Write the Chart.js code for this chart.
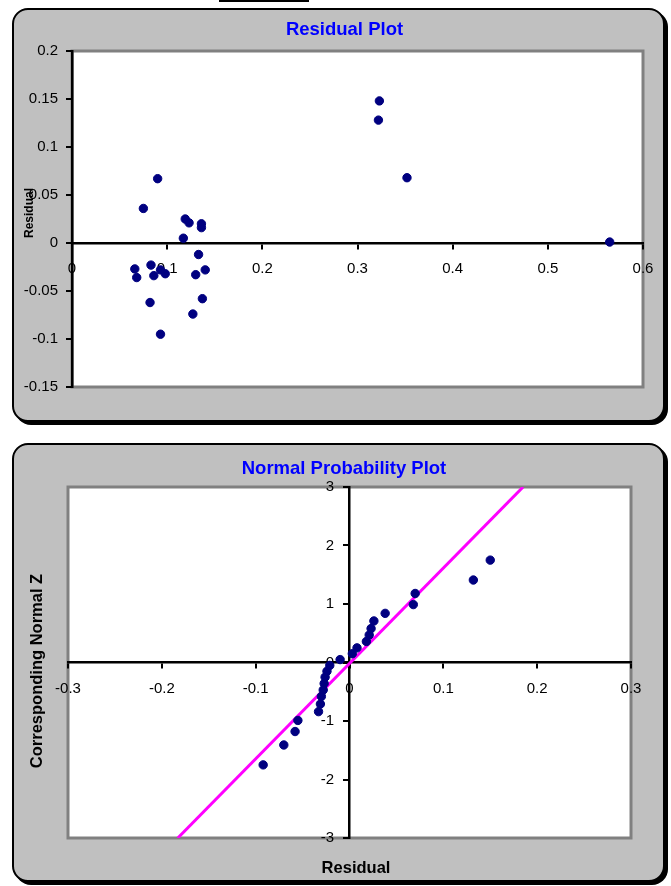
<!DOCTYPE html>
<html><head><meta charset="utf-8">
<script src="https://cdn.jsdelivr.net/npm/chart.js@4.4.1/dist/chart.umd.min.js"></script>
<style>
html,body{margin:0;padding:0;background:#fff;width:671px;height:886px;overflow:hidden;}
.box{position:absolute;box-sizing:border-box;background:#c0c0c0;border:2px solid #000;border-radius:16px;box-shadow:3px 3px 0 #000;}
#b1{left:12px;top:8px;width:653px;height:414px;}
#b2{left:12px;top:443px;width:653px;height:439px;}
canvas{position:absolute;left:0;}
#c1{top:0;}
#c2{top:430px;}
.topline{position:absolute;left:219px;top:0;width:90px;height:2px;background:#000;}
</style>
</head><body>
<div class="topline"></div>
<div class="box" id="b1"></div>
<div class="box" id="b2"></div>
<canvas id="c1" width="671" height="430"></canvas>
<canvas id="c2" width="671" height="456"></canvas>
<script>
// ---- data ----
const resFitted = [0.090, 0.075, 0.119, 0.123, 0.136, 0.136, 0.117, 0.133, 0.066, 0.068, 0.083, 0.086,
                   0.093, 0.098, 0.130, 0.140, 0.137, 0.082, 0.127, 0.093, 0.323, 0.322, 0.352, 0.565];
const resValues = [0.067, 0.036, 0.025, 0.021, 0.020, 0.016, 0.005, -0.012, -0.027, -0.036, -0.023, -0.034,
                   -0.028, -0.032, -0.033, -0.028, -0.058, -0.062, -0.074, -0.095, 0.148, 0.128, 0.068, 0.001];
const resXTicks = [0, 0.1, 0.2, 0.3, 0.4, 0.5, 0.6];
const resYTicks = [-0.15, -0.1, -0.05, 0, 0.05, 0.1, 0.15, 0.2];

const nppResiduals = [-0.092, -0.070, -0.058, -0.055, -0.033, -0.031, -0.030, -0.028, -0.027, -0.026, -0.024, -0.021,
                      -0.010, 0.003, 0.008, 0.018, 0.021, 0.023, 0.026, 0.038, 0.068, 0.070, 0.132, 0.150];
const nppZ = [-1.75, -1.41, -1.18, -0.99, -0.84, -0.71, -0.58, -0.47, -0.36, -0.25, -0.15, -0.05,
              0.05, 0.15, 0.25, 0.36, 0.47, 0.58, 0.71, 0.84, 0.99, 1.18, 1.41, 1.75];
const refLineX = [-0.183, 0.185];
const refLineZ = [-3, 3];
const nppXTicks = [-0.3, -0.2, -0.1, 0, 0.1, 0.2, 0.3];
const nppYTicks = [-3, -2, -1, 0, 1, 2, 3];

// ---- helpers ----
const FONT = "'Liberation Sans', Arial, Helvetica, sans-serif";
Chart.defaults.font.family = FONT;
Chart.defaults.font.size = 15;
Chart.defaults.color = '#000';

function pts(xs, ys) { return xs.map((x, i) => ({x: x, y: ys[i]})); }

function axis(tickArr, pos, pad) {
  return {
    type: 'linear', position: pos,
    min: tickArr[0], max: tickArr[tickArr.length - 1],
    afterBuildTicks: s => { s.ticks = tickArr.map(v => ({value: v})); },
    ticks: {autoSkip: false, maxRotation: 0, padding: pad, color: '#000', font: {size: 15},
            callback: v => String(v)},
    grid: {display: true, drawOnChartArea: false, drawTicks: true, tickLength: 5, color: '#000', lineWidth: 2},
    border: {display: true, color: '#000', width: 2.5}
  };
}

const plotArea = {
  id: 'plotArea',
  beforeDraw(chart) {
    const {ctx, chartArea: a} = chart;
    ctx.save();
    ctx.fillStyle = '#fff';
    ctx.fillRect(a.left, a.top, a.width, a.height);
    ctx.strokeStyle = '#808080';
    ctx.lineWidth = 3;
    ctx.strokeRect(a.left, a.top, a.width, a.height);
    ctx.restore();
  }
};

// move the value-positioned y axis labels to the left of the tick marks
function shiftYLabels(dx) {
  return {
    id: 'shiftYLabels',
    beforeDraw(chart) {
      chart.scales.y.getLabelItems().forEach(it => {
        if (!it._shifted) { it.options.translation[0] -= dx; it._shifted = true; }
      });
    }
  };
}

function textPlugin(items) {
  return {
    id: 'texts',
    afterDraw(chart) {
      const ctx = chart.ctx;
      items.forEach(t => {
        ctx.save();
        ctx.font = 'bold ' + t.size + 'px ' + FONT;
        ctx.fillStyle = t.color;
        ctx.textAlign = 'center';
        ctx.textBaseline = 'middle';
        ctx.translate(t.x, t.y);
        if (t.rot) ctx.rotate(-Math.PI / 2);
        ctx.fillText(t.text, 0, 0);
        ctx.restore();
      });
    }
  };
}

// ---- Residual plot ----
new Chart(document.getElementById('c1'), {
  type: 'scatter',
  data: {datasets: [{
    data: pts(resFitted, resValues),
    backgroundColor: '#000080', borderColor: '#000080', borderWidth: 1, pointRadius: 4.2
  }]},
  options: {
    responsive: false, animation: false,
    layout: {padding: {left: 72, right: 28, top: 51, bottom: 43}},
    plugins: {legend: {display: false}, tooltip: {enabled: false}},
    scales: {
      x: axis(resXTicks, {y: 0}, 12),
      y: axis(resYTicks, {x: 0}, 9)
    }
  },
  plugins: [plotArea, shiftYLabels(14), textPlugin([
    {text: 'Residual Plot', x: 344.5, y: 30, size: 18.5, color: '#0000FF'},
    {text: 'Residual', x: 30, y: 213, size: 12, color: '#000', rot: true}
  ])]
});

// ---- Normal probability plot ----
new Chart(document.getElementById('c2'), {
  type: 'scatter',
  data: {datasets: [
    {data: pts(nppResiduals, nppZ), backgroundColor: '#000080', borderColor: '#000080',
     borderWidth: 1, pointRadius: 4.2},
    {data: pts(refLineX, refLineZ), showLine: true, borderColor: '#FF00FF', borderWidth: 3,
     pointRadius: 0, fill: false}
  ]},
  options: {
    responsive: false, animation: false,
    layout: {padding: {left: 68, right: 40, top: 57, bottom: 48}},
    plugins: {legend: {display: false}, tooltip: {enabled: false}},
    scales: {
      x: axis(nppXTicks, {y: 0}, 12),
      y: axis(nppYTicks, {x: 0}, 10)
    }
  },
  plugins: [plotArea, shiftYLabels(15.5), textPlugin([
    {text: 'Normal Probability Plot', x: 344, y: 39, size: 18.5, color: '#0000FF'},
    {text: 'Corresponding Normal Z', x: 37.5, y: 241, size: 16.5, color: '#000', rot: true},
    {text: 'Residual', x: 356, y: 438, size: 16.5, color: '#000'}
  ])]
});
</script>
</body></html>
